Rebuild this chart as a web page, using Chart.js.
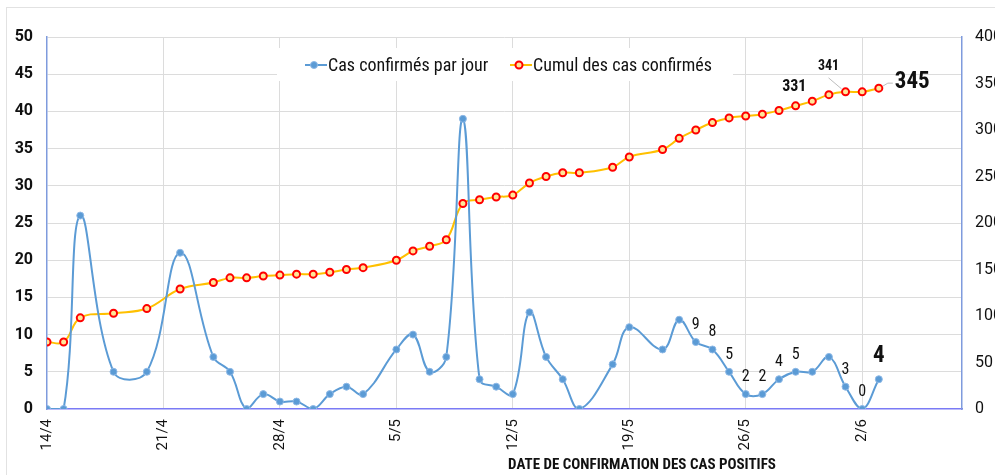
<!DOCTYPE html>
<html>
<head>
<meta charset="utf-8">
<script src="https://cdn.jsdelivr.net/npm/chart.js@4/dist/chart.umd.min.js"></script>
<style>
html, body { margin: 0; padding: 0; background: #fff; }
#wrap { position: relative; width: 995px; height: 475px; overflow: hidden; }
#frame { position: absolute; left: 6px; top: 7px; width: 1000px; height: 480px; border-left: 1px solid #e2e2e2; border-top: 1px solid #e2e2e2; }
canvas { position: absolute; left: 0; top: 0; }
</style>
</head>
<body>
<div id="wrap"><div id="frame"></div><canvas id="chart" width="995" height="475"></canvas></div>
<script>
const dates = ['14/4','15/4','16/4','18/4','20/4','22/4','24/4','25/4','26/4','27/4',
  '28/4','29/4','30/4','1/5','2/5','3/5','5/5','6/5','7/5','8/5',
  '9/5','10/5','11/5','12/5','13/5','14/5','15/5','16/5','18/5','19/5',
  '21/5','22/5','23/5','24/5','25/5','26/5','27/5','28/5','29/5','30/5',
  '31/5','1/6','2/6','3/6'];
const daily = [0,0,26,5,5,21,7,5,0,2,
  1,1,0,2,3,2,8,10,5,7,
  39,4,3,2,13,7,4,0,6,11,
  8,12,9,8,5,2,2,4,5,5,
  7,3,0,4];
const cumul = [72,72,98,103,108,129,136,141,141,143,
  144,145,145,147,150,152,160,170,175,182,
  221,225,228,230,243,250,254,254,260,271,
  279,291,300,308,313,315,317,321,326,331,
  338,341,341,345];
const xTickLabels = ['14/4','21/4','28/4','5/5','12/5','19/5','26/5','2/6'];
const xEnd = '8/6';
const dailyLabelled = ['23/5','24/5','25/5','26/5','27/5','28/5','29/5','1/6','2/6','3/6'];
const cumulLabelled = ['30/5','1/6','3/6'];
const seriesNames = ['Cas confirmés par jour', 'Cumul des cas confirmés'];
const xTitle = 'DATE DE CONFIRMATION DES CAS POSITIFS';

// Roboto with the condensed stretch stands in for Arial Narrow
const FONT = "Roboto, 'DejaVu Sans Condensed', sans-serif";
const BLUE = '#5b9bd5';
const GOLD = '#ffc000';

// day number counted from the first date
function dayOf(label) {
  const [d, m] = label.split('/').map(Number);
  return Math.round((Date.UTC(2020, m - 1, d) - Date.UTC(2020, 3, 14)) / 86400000);
}

function font(size, bold) {
  return 'condensed ' + (bold ? 'bold ' : '') + size + 'px ' + FONT;
}

const extras = {
  id: 'extras',
  afterDatasetsDraw(chart) {
    const ctx = chart.ctx;
    const m0 = chart.getDatasetMeta(0), m1 = chart.getDatasetMeta(1);
    ctx.save();

    // value labels on the daily series
    ctx.fillStyle = '#111';
    ctx.textAlign = 'center';
    ctx.textBaseline = 'bottom';
    dailyLabelled.forEach(d => {
      const i = dates.indexOf(d);
      const p = m0.data[i];
      const last = i === dates.length - 1;
      ctx.font = last ? font(23, true) : font(16);
      ctx.fillText(String(daily[i]), p.x, p.y - (last ? 11 : 9));
    });

    // value labels on the cumulative series
    cumulLabelled.forEach((d, k) => {
      const i = dates.indexOf(d);
      const p = m1.data[i];
      const v = String(cumul[i]);
      if (k === 0) {
        ctx.font = font(16, true);
        ctx.textAlign = 'center';
        ctx.fillText(v, p.x - 18, p.y - 6);
      } else if (k === 1) {
        ctx.strokeStyle = '#bdbdbd';
        ctx.lineWidth = 1;
        ctx.beginPath();
        ctx.moveTo(p.x - 17, p.y - 14);
        ctx.lineTo(p.x - 4, p.y - 3);
        ctx.stroke();
        ctx.font = font(14, true);
        ctx.textAlign = 'center';
        ctx.fillText(v, p.x - 17, p.y - 18);
      } else {
        ctx.strokeStyle = '#bdbdbd';
        ctx.lineWidth = 1;
        ctx.beginPath();
        ctx.moveTo(p.x + 4, p.y - 2);
        ctx.lineTo(p.x + 9, p.y - 5);
        ctx.lineTo(p.x + 14, p.y - 5);
        ctx.stroke();
        ctx.font = font(23, true);
        ctx.textAlign = 'left';
        ctx.fillText(v, p.x + 16, p.y + 6);
      }
    });

    // legend box inside the plot
    ctx.fillStyle = '#fff';
    ctx.fillRect(277, 48, 456, 33);
    const items = [
      { x: 305, color: BLUE, fill: BLUE, border: '#8db8e6' },
      { x: 510, color: GOLD, fill: '#ffe699', border: '#ff0000' }
    ];
    ctx.font = font(18);
    ctx.textAlign = 'left';
    ctx.textBaseline = 'middle';
    items.forEach((it, k) => {
      ctx.strokeStyle = it.color;
      ctx.lineWidth = 2;
      ctx.beginPath();
      ctx.moveTo(it.x, 65);
      ctx.lineTo(it.x + 22, 65);
      ctx.stroke();
      ctx.beginPath();
      ctx.arc(it.x + 9, 65, 3.5, 0, Math.PI * 2);
      ctx.fillStyle = it.fill;
      ctx.fill();
      ctx.strokeStyle = it.border;
      ctx.lineWidth = k ? 2 : 1;
      ctx.stroke();
      ctx.fillStyle = '#111';
      ctx.fillText(seriesNames[k], it.x + 23, 66);
    });

    // x axis title
    ctx.font = font(15, true);
    ctx.textAlign = 'center';
    ctx.fillText(xTitle, 642, 465);
    ctx.restore();
  }
};

new Chart(document.getElementById('chart'), {
  type: 'line',
  data: {
    datasets: [
      {
        label: seriesNames[0],
        data: dates.map((d, i) => ({ x: dayOf(d), y: daily[i] })),
        yAxisID: 'y',
        borderColor: BLUE,
        borderWidth: 2,
        tension: 0.4,
        pointRadius: 3.5,
        pointBackgroundColor: BLUE,
        pointBorderColor: '#8db8e6',
        pointBorderWidth: 1,
        order: 0
      },
      {
        label: seriesNames[1],
        data: dates.map((d, i) => ({ x: dayOf(d), y: cumul[i] })),
        yAxisID: 'y1',
        borderColor: GOLD,
        borderWidth: 2,
        tension: 0.4,
        pointRadius: 3.5,
        pointBackgroundColor: '#ffe699',
        pointBorderColor: '#ff0000',
        pointBorderWidth: 2,
        order: 1
      }
    ]
  },
  options: {
    responsive: false,
    animation: false,
    layout: { padding: { top: 37, left: 0, right: 0, bottom: 0 } },
    plugins: { legend: { display: false }, tooltip: { enabled: false } },
    scales: {
      x: {
        type: 'linear',
        min: 0,
        max: dayOf(xEnd),
        afterBuildTicks: s => { s.ticks = xTickLabels.map(l => ({ value: dayOf(l) })); },
        afterFit: s => { s.height = 66; },
        ticks: {
          minRotation: 90,
          maxRotation: 90,
          padding: 10,
          color: '#111',
          font: { size: 15, style: 'condensed', family: FONT },
          callback: v => xTickLabels.find(l => dayOf(l) === v) || ''
        },
        grid: {
          color: c => c.index === 0 ? 'rgba(0,0,0,0)' : '#dcdcdc',
          drawTicks: false
        },
        border: { color: '#7a7af5', width: 1.5 }
      },
      y: {
        position: 'left',
        min: 0,
        max: 50,
        afterFit: s => { s.width = 47; },
        ticks: {
          stepSize: 5,
          padding: 14,
          color: '#111',
          font: { size: 16, weight: 'bold', style: 'condensed', family: FONT }
        },
        grid: {
          color: c => c.tick && c.tick.value === 0 ? 'rgba(0,0,0,0)' : '#dcdcdc',
          drawTicks: false
        },
        border: { color: '#7f9bdd', width: 1.5 }
      },
      y1: {
        position: 'right',
        min: 0,
        max: 400,
        afterFit: s => { s.width = 33; },
        ticks: {
          stepSize: 50,
          padding: 13,
          color: '#111',
          font: { size: 16, style: 'condensed', family: FONT }
        },
        grid: { display: false, drawTicks: false },
        border: { color: '#7f9bdd', width: 1.5 }
      }
    }
  },
  plugins: [extras]
});
</script>
</body>
</html>
